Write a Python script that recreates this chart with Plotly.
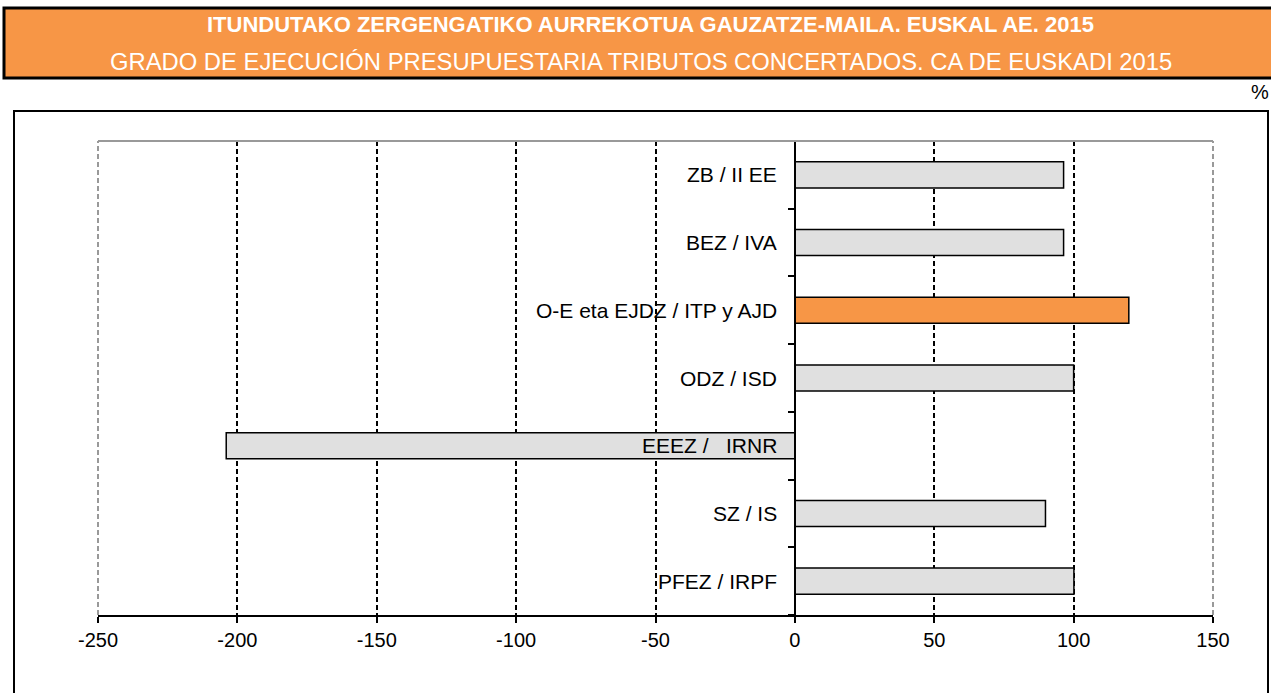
import plotly.graph_objects as go

# Degree of budget execution by agreed tax, Basque Country 2015 (%)
categories = [
    "PFEZ / IRPF",
    "SZ / IS",
    "EEEZ /\u00a0\u00a0 IRNR",
    "ODZ / ISD",
    "O-E eta EJDZ / ITP y AJD",
    "BEZ / IVA",
    "ZB / II EE",
]
values = [100.1, 89.9, -204.0, 100.0, 119.8, 96.4, 96.4]
highlight = [False, False, False, False, True, False, False]
x_ticks = [-250, -200, -150, -100, -50, 0, 50, 100, 150]
grid_vals = [-200, -150, -100, -50, 50, 100]

title_eu = "ITUNDUTAKO ZERGENGATIKO AURREKOTUA GAUZATZE-MAILA. EUSKAL AE. 2015"
title_es = "GRADO DE EJECUCIÓN PRESUPUESTARIA TRIBUTOS CONCERTADOS. CA DE EUSKADI 2015"

ORANGE = "#F79646"
GREY_BAR = "#E0E0E0"
FONT = "Liberation Sans, Arial, sans-serif"

W, H = 1271, 693
L, R, T, B = 98, 58, 141, 78
pw, ph = W - L - R, H - T - B


def px_x(p):
    return (p - L) / pw


def px_y(p):
    return (H - B - p) / ph


ypos = list(range(len(categories)))
colors = [ORANGE if h else GREY_BAR for h in highlight]

fig = go.Figure(
    go.Bar(
        x=values,
        y=ypos,
        orientation="h",
        width=0.385,
        marker=dict(color=colors, line=dict(color="#000000", width=1.5)),
        hoverinfo="x",
    )
)

annotations = []
for yv, name in zip(ypos, categories):
    annotations.append(dict(
        x=0, y=yv, xref="x", yref="y", text=name, showarrow=False,
        xanchor="right", yanchor="middle", xshift=-16,
        font=dict(family=FONT, size=21, color="#000000"),
    ))

# header band titles
annotations += [
    dict(x=px_x(650), y=px_y(24), xref="paper", yref="paper", text="<b>" + title_eu + "</b>",
         showarrow=False, xanchor="center", yanchor="middle",
         font=dict(family=FONT, size=22, color="#FFFFFF")),
    dict(x=px_x(641), y=px_y(61), xref="paper", yref="paper", text=title_es,
         showarrow=False, xanchor="center", yanchor="middle",
         font=dict(family=FONT, size=23.8, color="#FFFFFF")),
    dict(x=px_x(1271), y=px_y(92), xref="paper", yref="paper", text="%",
         showarrow=False, xanchor="right", yanchor="middle",
         font=dict(family=FONT, size=20, color="#000000")),
]

shapes = [
    # header band
    dict(type="rect", xref="paper", yref="paper",
         x0=px_x(4), x1=px_x(1290), y0=px_y(78), y1=px_y(8),
         fillcolor=ORANGE, line=dict(color="#000000", width=3), layer="below"),
    # chart frame
    dict(type="rect", xref="paper", yref="paper",
         x0=px_x(14), x1=px_x(1268), y0=px_y(720), y1=px_y(111),
         fillcolor="rgba(0,0,0,0)", line=dict(color="#000000", width=2), layer="below"),
    # plot area border (top, left, right)
    dict(type="line", xref="paper", yref="paper", x0=0, x1=1, y0=1, y1=1,
         line=dict(color="#999999", width=2)),
    dict(type="line", xref="paper", yref="paper", x0=0, x1=0, y0=0, y1=1,
         line=dict(color="#999999", width=2, dash="5px,3px"), layer="below"),
    dict(type="line", xref="paper", yref="paper", x0=1, x1=1, y0=0, y1=1,
         line=dict(color="#999999", width=2, dash="5px,3px"), layer="below"),
]

fig.update_layout(
    width=W, height=H,
    margin=dict(l=L, r=R, t=T, b=B, pad=0),
    paper_bgcolor="#FFFFFF",
    plot_bgcolor="#FFFFFF",
    showlegend=False,
    annotations=annotations,
    shapes=shapes,
    xaxis=dict(
        range=[-250, 150],
        tickvals=x_ticks,
        ticktext=[str(v) for v in x_ticks],
        showgrid=False,
        zeroline=False,
        showline=True, linecolor="#000000", linewidth=2,
        ticks="outside", ticklen=6, tickwidth=1.5, tickcolor="#000000",
        tickfont=dict(family=FONT, size=20, color="#000000"),
        minor=dict(tickvals=grid_vals, showgrid=True, gridcolor="#000000",
                   gridwidth=1.5, griddash="5px,3px", ticks=""),
        fixedrange=True,
    ),
    yaxis=dict(
        range=[-0.5, len(categories) - 0.5],
        anchor="free",
        position=(0 - (-250)) / 400,
        tickvals=[i - 0.5 for i in range(len(categories) + 1)],
        showticklabels=False,
        showgrid=False,
        zeroline=False,
        showline=True, linecolor="#000000", linewidth=2,
        ticks="outside", ticklen=6, tickwidth=1.5, tickcolor="#000000",
        fixedrange=True,
    ),
)

fig.write_html("out.html")
